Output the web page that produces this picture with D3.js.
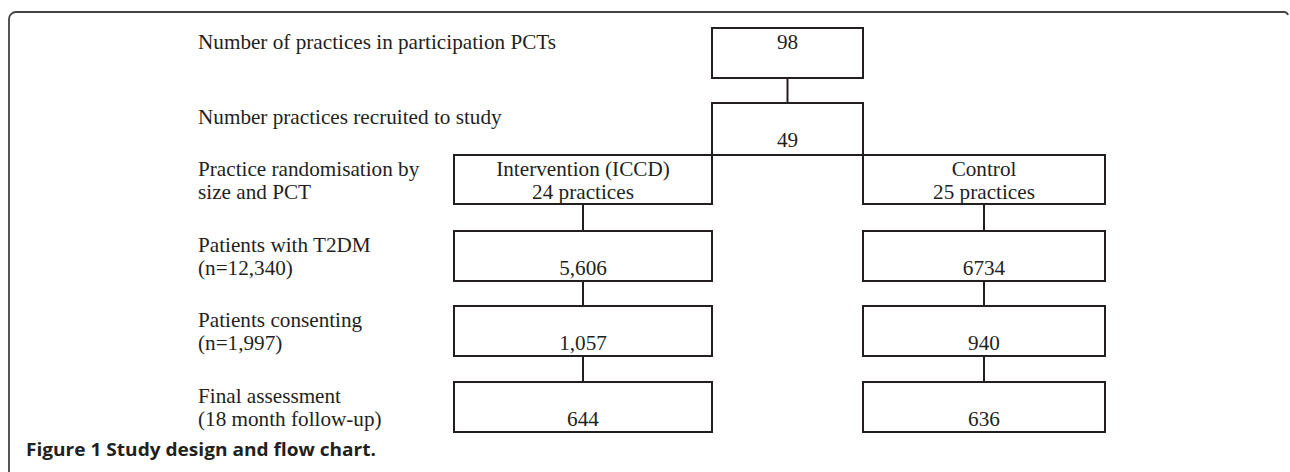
<!DOCTYPE html>
<html>
<head>
<meta charset="utf-8">
<script src="https://cdn.jsdelivr.net/npm/d3@7"></script>
<style>
  html, body { margin: 0; padding: 0; background: #ffffff; }
  svg { display: block; }
</style>
</head>
<body>
<svg id="chart" width="1290" height="472"></svg>
<script>
// ---------------- DATA ----------------
const stageLabels = [
  ["Number of practices in participation PCTs"],
  ["Number practices recruited to study"],
  ["Practice randomisation by", "size and PCT"],
  ["Patients with T2DM", "(n=12,340)"],
  ["Patients consenting", "(n=1,997)"],
  ["Final assessment", "(18 month follow-up)"]
];
const poolValues = ["98", "49"];
const armNames = ["Intervention (ICCD)", "Control"];
const armPractices = ["24 practices", "25 practices"];
const interventionValues = ["5,606", "1,057", "644"];
const controlValues = ["6734", "940", "636"];
const caption = "Figure 1 Study design and flow chart.";

// ---------------- LAYOUT ----------------
const svg = d3.select("#chart");
const ink = "#231f20";
const serif = "'Liberation Serif', 'Times New Roman', serif";
const fs = 21.2;

// horizontal positions (columns)
const x = d3.scaleOrdinal()
  .domain(["label", "armL0", "armL1", "poolL", "poolR", "armR1"])
  .range([198, 454, 712, 712, 863, 1105]);

// vertical box tops per stage
const yTop = d3.scaleOrdinal()
  .domain(d3.range(6))
  .range([28, 103, 155, 231, 306, 382]);
const boxH = 50;
const line1 = 20.5, line2 = 44;

const g = svg.append("g");

// outer frame
const frame = d3.path();
frame.moveTo(9, 472);
frame.lineTo(9, 19);
frame.arcTo(9, 12, 16, 12, 7);
frame.lineTo(1284, 12);
frame.quadraticCurveTo(1287, 12, 1288, 15);
g.append("path").attr("d", frame.toString())
  .attr("fill", "none").attr("stroke", "#444").attr("stroke-width", 1.8);

// left stage labels
stageLabels.forEach((lines, i) => {
  const t = g.append("text")
    .attr("font-family", serif).attr("font-size", fs).attr("fill", ink);
  lines.forEach((ln, j) => {
    t.append("tspan").attr("x", x("label"))
      .attr("y", yTop(i) + (j === 0 ? line1 : line1 + 23)).text(ln);
  });
});

function box(x0, x1, y0, y1) {
  g.append("rect").attr("x", x0).attr("y", y0)
    .attr("width", x1 - x0).attr("height", y1 - y0)
    .attr("fill", "none").attr("stroke", ink).attr("stroke-width", 2);
}
function vline(xc, y0, y1) {
  g.append("line").attr("x1", xc).attr("x2", xc).attr("y1", y0).attr("y2", y1)
    .attr("stroke", ink).attr("stroke-width", 2);
}
function label(xc, yb, txt) {
  g.append("text").attr("x", xc).attr("y", yb).attr("text-anchor", "middle")
    .attr("font-family", serif).attr("font-size", fs).attr("fill", ink).text(txt);
}

const poolC = (x("poolL") + x("poolR")) / 2;
// stage 0 box
box(x("poolL"), x("poolR"), yTop(0), yTop(0) + boxH);
label(poolC, yTop(0) + line1, poolValues[0]);
vline(poolC, yTop(0) + boxH, yTop(1));
// stage 1 box (down to randomisation boxes)
box(x("poolL"), x("poolR"), yTop(1), yTop(2));
label(poolC, yTop(1) + line2, poolValues[1]);

// arm columns
const arms = [
  { x0: x("armL0"), x1: x("armL1"), vals: interventionValues },
  { x0: x("poolR"), x1: x("armR1"), vals: controlValues }
];
arms.forEach((a, k) => {
  const c = (a.x0 + a.x1) / 2;
  const top = yTop(2);
  box(a.x0, a.x1, top, top + 49);
  label(c, top + line1, armNames[k]);
  label(c, top + line1 + 23.5, armPractices[k]);
  a.vals.forEach((v, i) => {
    const st = i + 3;
    const prevBottom = st === 3 ? top + 49 : yTop(st - 1) + boxH;
    vline(c, prevBottom, yTop(st));
    box(a.x0, a.x1, yTop(st), yTop(st) + boxH);
    label(c, yTop(st) + line2, v);
  });
});

// caption
svg.append("text").attr("x", 26).attr("y", 456)
  .attr("font-family", "'Open Sans', 'Noto Sans', sans-serif")
  .attr("font-weight", 700).attr("font-size", 18).attr("fill", "#231f20")
  .attr("textLength", 350).attr("lengthAdjust", "spacingAndGlyphs")
  .text(caption);
</script>
</body>
</html>
